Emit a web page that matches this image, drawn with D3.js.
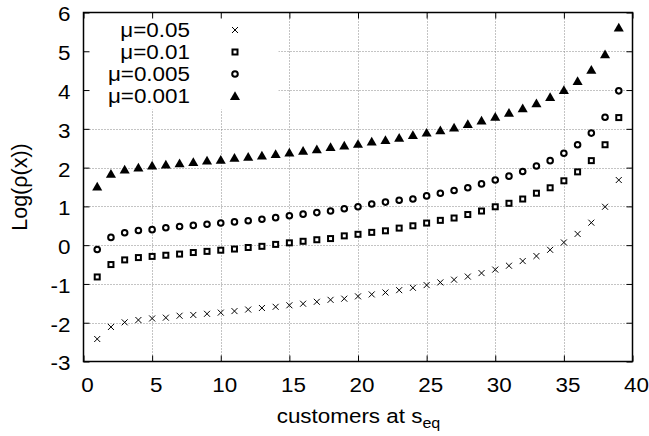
<!DOCTYPE html>
<html>
<head>
<meta charset="utf-8">
<script src="https://cdn.jsdelivr.net/npm/d3@7"></script>
<style>
html,body{margin:0;padding:0;background:#fff;}
svg{display:block;font-family:"Liberation Sans",Arial,Helvetica,sans-serif;}
</style>
</head>
<body>
<svg id="chart" width="649" height="436"></svg>
<script>
const xValues = d3.range(1, 40);
const seriesNames = ["μ=0.05", "μ=0.01", "μ=0.005", "μ=0.001"];
const mu005 = [-2.42,-2.11,-1.99,-1.93,-1.89,-1.87,-1.82,-1.80,-1.77,-1.74,-1.70,-1.66,-1.62,-1.59,-1.55,-1.51,-1.46,-1.41,-1.38,-1.32,-1.27,-1.22,-1.16,-1.10,-1.03,-0.96,-0.89,-0.81,-0.72,-0.63,-0.53,-0.41,-0.28,-0.12,0.07,0.29,0.58,0.99,1.68];
const mu001 = [-0.82,-0.50,-0.38,-0.32,-0.29,-0.26,-0.23,-0.19,-0.16,-0.13,-0.10,-0.06,-0.03,0.02,0.06,0.10,0.14,0.17,0.24,0.28,0.33,0.37,0.44,0.50,0.57,0.64,0.70,0.79,0.88,0.99,1.08,1.19,1.34,1.48,1.66,1.89,2.18,2.59,3.29];
const mu0005 = [-0.11,0.20,0.32,0.38,0.40,0.45,0.48,0.51,0.54,0.57,0.60,0.63,0.67,0.71,0.76,0.80,0.84,0.88,0.94,0.99,1.06,1.11,1.16,1.19,1.27,1.34,1.41,1.48,1.58,1.68,1.78,1.90,2.04,2.18,2.37,2.59,2.89,3.30,3.98];
const mu0001 = [1.51,1.84,1.95,2.00,2.05,2.08,2.11,2.14,2.18,2.20,2.25,2.28,2.31,2.35,2.39,2.43,2.47,2.53,2.57,2.61,2.67,2.71,2.77,2.84,2.90,2.96,3.03,3.12,3.21,3.31,3.41,3.53,3.66,3.82,4.00,4.23,4.52,4.92,5.61];
const xTicks = [0,5,10,15,20,25,30,35,40];
const yTicks = [-3,-2,-1,0,1,2,3,4,5,6];
const xLabel = "customers at s";
const xLabelSub = "eq";
const yLabel = "Log(ρ(x))";

const seriesData = [mu005, mu001, mu0005, mu0001];
const markerTypes = ["cross", "square", "circle", "triangle"];

const svg = d3.select("#chart");
const L = 83.5, R = 632.5, T = 12.5, B = 361.5;
const x = d3.scaleLinear().domain([0, 40]).range([L, R]);
const y = d3.scaleLinear().domain([-3, 6]).range([B, T]);
const fs = 19.5, sx = 1.15;

// grid
const grid = svg.append("g").attr("stroke", "#888").attr("stroke-width", 1).attr("stroke-dasharray", "1,2");
xTicks.slice(1, -1).forEach(t => {
  grid.append("line").attr("x1", Math.round(x(t)) + 0.5).attr("x2", Math.round(x(t)) + 0.5).attr("y1", T).attr("y2", B);
});
yTicks.slice(1, -1).forEach(t => {
  grid.append("line").attr("y1", Math.round(y(t)) + 0.5).attr("y2", Math.round(y(t)) + 0.5).attr("x1", L).attr("x2", R);
});

// legend background
svg.append("rect").attr("x", L + 1).attr("y", T + 1).attr("width", 194).attr("height", 96).attr("fill", "#fff");

// axes with inward ticks (mirrored)
const fmt = d => String(d);
const axB = svg.append("g").attr("transform", `translate(0,${B})`)
  .call(d3.axisBottom(x).tickValues(xTicks).tickSize(-6).tickPadding(17).tickSizeOuter(0).tickFormat(fmt));
const axT = svg.append("g").attr("transform", `translate(0,${T})`)
  .call(d3.axisTop(x).tickValues(xTicks).tickSize(-6).tickFormat("").tickSizeOuter(0));
const axL = svg.append("g").attr("transform", `translate(${L},0)`)
  .call(d3.axisLeft(y).tickValues(yTicks).tickSize(-6).tickPadding(13).tickSizeOuter(0).tickFormat(fmt));
const axR = svg.append("g").attr("transform", `translate(${R},0)`)
  .call(d3.axisRight(y).tickValues(yTicks).tickSize(-6).tickFormat("").tickSizeOuter(0));
[axB, axT, axL, axR].forEach(a => {
  a.select(".domain").remove();
  a.selectAll("line").attr("stroke", "#000").attr("stroke-width", 1);
  a.selectAll("text").attr("fill", "#000").attr("font-size", fs).attr("font-family", "Liberation Sans, Arial, sans-serif");
});
axB.selectAll("text").each(function() {
  const t = d3.select(this);
  t.attr("x", 3.5 / sx).attr("transform", `scale(${sx},1)`);
});
axL.selectAll("text").each(function() {
  const t = d3.select(this);
  const xx = +t.attr("x");
  t.attr("x", xx / sx).attr("dy", "0.43em").attr("transform", `scale(${sx},1)`);
});

// frame
svg.append("rect").attr("x", L).attr("y", T).attr("width", R - L).attr("height", B - T)
  .attr("fill", "none").attr("stroke", "#000").attr("stroke-width", 1.5);

// markers
function drawMarker(g, type, cx, cy) {
  if (type === "cross") {
    g.append("path").attr("d", `M${cx-3},${cy-3}L${cx+3},${cy+3}M${cx-3},${cy+3}L${cx+3},${cy-3}`)
      .attr("stroke", "#000").attr("stroke-width", 1).attr("fill", "none");
  } else if (type === "square") {
    g.append("rect").attr("x", cx - 2.5).attr("y", cy - 2.5).attr("width", 5).attr("height", 5)
      .attr("fill", "#fff").attr("stroke", "#000").attr("stroke-width", 2);
  } else if (type === "circle") {
    g.append("circle").attr("cx", cx).attr("cy", cy).attr("r", 2.8)
      .attr("fill", "#fff").attr("stroke", "#000").attr("stroke-width", 2);
  } else {
    g.append("path").attr("d", d3.symbol().type(d3.symbolTriangle).size(44)()).attr("transform", `translate(${cx},${cy + 1})`)
      .attr("fill", "#000");
  }
}

const pts = svg.append("g");
seriesData.forEach((vals, si) => {
  vals.forEach((v, i) => drawMarker(pts, markerTypes[si], x(xValues[i]), y(v)));
});

// legend
const leg = svg.append("g");
seriesNames.forEach((name, i) => {
  const ly = 30 + i * 22;
  leg.append("text").attr("x", 190 / sx).attr("y", ly + 7).attr("text-anchor", "end")
    .attr("transform", `scale(${sx},1)`)
    .attr("font-size", fs).attr("fill", "#000").text(name);
  drawMarker(leg, markerTypes[i], 235, ly);
});

// axis labels
const xl = svg.append("text").attr("x", 358.5 / sx).attr("y", 423).attr("text-anchor", "middle")
  .attr("transform", `scale(${sx},1)`)
  .attr("font-size", fs).attr("fill", "#000");
xl.append("tspan").text(xLabel);
xl.append("tspan").attr("font-size", 14).attr("dy", 5).text(xLabelSub);

svg.append("text").attr("transform", `translate(27,${(T + B) / 2}) rotate(-90)`).attr("text-anchor", "middle")
  .attr("font-size", 21.5).attr("fill", "#000").text(yLabel);
</script>
</body>
</html>
